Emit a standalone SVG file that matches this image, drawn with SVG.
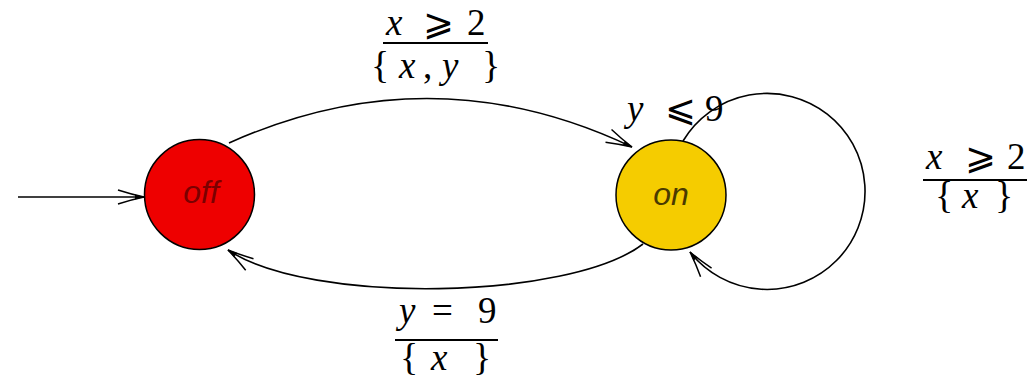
<svg xmlns="http://www.w3.org/2000/svg" width="1032" height="385" viewBox="0 0 1032 385">
<defs>
<style>
.edge{fill:none;stroke:#000;stroke-width:1.6}
.node{stroke:#000;stroke-width:1.5}
.lbl{font-family:"Liberation Sans",Arial,sans-serif;font-style:italic;font-size:32px;text-anchor:middle}
.m{font-family:"Liberation Serif","DejaVu Serif",serif;font-size:37px;fill:#000}
.i{font-style:italic}
.b{font-size:38px}
.bar{stroke:#000;stroke-width:2.2}
</style>
<marker id="ah" viewBox="-30 -9 32 18" refX="0" refY="0" markerWidth="32" markerHeight="18" markerUnits="userSpaceOnUse" orient="auto">
<path d="M-26,-7 Q-12,-2.5 0,0 Q-12,2.5 -26,7" fill="none" stroke="#000" stroke-width="1.5"/>
<path d="M0,0 L-9,-2.6 L-9,2.6 Z" fill="#000"/>
</marker>
</defs>
<rect width="1032" height="385" fill="#fff"/>
<g id="connectors">
<path class="edge" d="M18,197 L144,197" marker-end="url(#ah)"/>
<path class="edge" d="M229,143 Q432,52 632,147" marker-end="url(#ah)"/>
<path class="edge" d="M643,244 C570,300 310,305 228,250" marker-end="url(#ah)"/>
<path class="edge" d="M683,141 A98,98 0 1,1 690,252" marker-end="url(#ah)"/>
</g>
<g id="node-off">
<circle class="node" cx="199.5" cy="194.5" r="55" fill="#ee0000"/>
<text class="lbl" x="201" y="203" fill="#7a0000">off</text>
</g>
<g id="node-on">
<circle class="node" cx="671" cy="195" r="55" fill="#f5cc00"/>
<text class="lbl" x="671" y="205" fill="#4a3a00">on</text>
</g>
<g id="label-top">
<text class="m" y="35"><tspan class="i" x="386">x</tspan><tspan x="423">⩾</tspan><tspan x="467">2</tspan></text>
<line class="bar" x1="383" y1="43" x2="488" y2="43"/>
<text class="m" y="78"><tspan class="b" x="371">{</tspan><tspan class="i" x="399">x</tspan><tspan x="423">,</tspan><tspan class="i" x="442">y</tspan><tspan class="b" x="482">}</tspan></text>
</g>
<g id="label-invariant">
<text class="m" y="121"><tspan class="i" x="627">y</tspan><tspan x="665">⩽</tspan><tspan x="705">9</tspan></text>
</g>
<g id="label-loop">
<text class="m" y="169"><tspan class="i" x="926">x</tspan><tspan x="965">⩾</tspan><tspan x="1007">2</tspan></text>
<line class="bar" x1="923" y1="180" x2="1027" y2="180"/>
<text class="m" y="208"><tspan class="b" x="935">{</tspan><tspan class="i" x="962">x</tspan><tspan class="b" x="995">}</tspan></text>
</g>
<g id="label-bottom">
<text class="m" y="323"><tspan class="i" x="399">y</tspan><tspan x="432">=</tspan><tspan x="478">9</tspan></text>
<line class="bar" x1="395" y1="340" x2="498" y2="340"/>
<text class="m" y="370"><tspan class="b" x="400">{</tspan><tspan class="i" x="431">x</tspan><tspan class="b" x="473">}</tspan></text>
</g>
</svg>
